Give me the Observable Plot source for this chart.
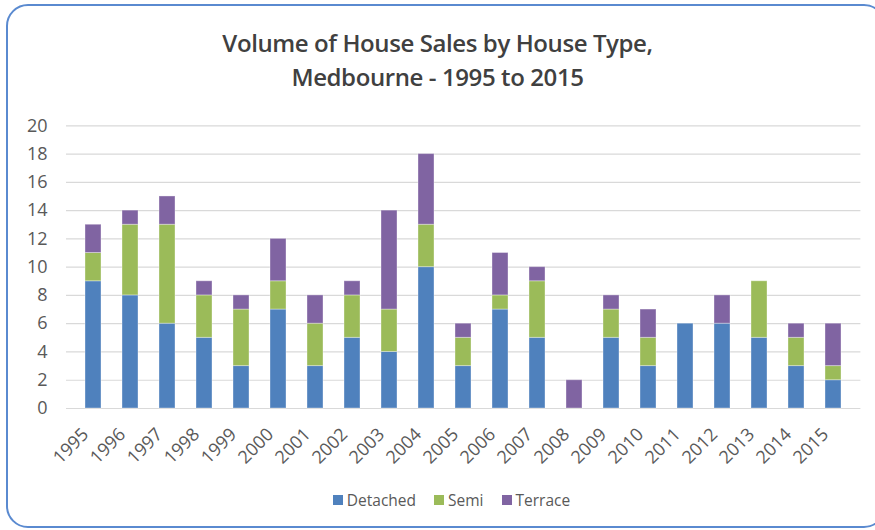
<!DOCTYPE html>
<html>
<head>
<meta charset="utf-8">
<script src="https://cdn.jsdelivr.net/npm/d3@7"></script>
<script src="https://cdn.jsdelivr.net/npm/@observablehq/plot@0.6"></script>
<style>
  html, body { margin: 0; padding: 0; background: #fff; }
  #wrap { position: relative; width: 875px; height: 530px; overflow: hidden; font-family: "Open Sans", sans-serif; }
  #frame { position: absolute; left: 6px; top: 4px; width: 880px; height: 524px; border: 2px solid #5a8ad0; border-radius: 22px; box-sizing: border-box; }
  #title { position: absolute; left: 0; top: 26px; width: 875px; text-align: center; font-size: 24px; font-weight: 600; color: #404040; line-height: 34px; letter-spacing: -0.4px; }
  #chart { position: absolute; left: 0; top: 110px; }
  #legend { position: absolute; top: 489px; left: 0; width: 875px; display: flex; justify-content: center; gap: 18px; font-size: 15.5px; color: #595959; padding-left: 28px; box-sizing: border-box; }
  .item { display: flex; align-items: center; gap: 4px; }
  .sw { width: 10px; height: 10px; display: inline-block; }
</style>
</head>
<body>
<div id="wrap">
  <div id="frame"></div>
  <div id="title">Volume of House Sales by House Type,<br>Medbourne - 1995 to 2015</div>
  <div id="chart"></div>
  <div id="legend"></div>
</div>
<script>
const years = ["1995","1996","1997","1998","1999","2000","2001","2002","2003","2004","2005","2006","2007","2008","2009","2010","2011","2012","2013","2014","2015"];
const detached = [9, 8, 6, 5, 3, 7, 3, 5, 4, 10, 3, 7, 5, 0, 5, 3, 6, 6, 5, 3, 2];
const semi     = [2, 5, 7, 3, 4, 2, 3, 3, 3, 3, 2, 1, 4, 0, 2, 2, 0, 0, 4, 2, 1];
const terrace  = [2, 1, 2, 1, 1, 3, 2, 1, 7, 5, 1, 3, 1, 2, 1, 2, 0, 2, 0, 1, 3];
const seriesNames = ["Detached", "Semi", "Terrace"];
const seriesColors = ["#4f81bd", "#9bbb59", "#8064a2"];
const yTicks = [0, 2, 4, 6, 8, 10, 12, 14, 16, 18, 20];

const seriesValues = [detached, semi, terrace];
const rows = [];
years.forEach((y, i) => {
  seriesNames.forEach((s, k) => {
    rows.push({year: y, type: s, value: seriesValues[k][i]});
  });
});

const chart = Plot.plot({
  width: 875,
  height: 360,
  marginTop: 15.3,
  marginBottom: 62,
  marginLeft: 66,
  marginRight: 14.6,
  style: {fontFamily: "Open Sans, sans-serif", fontSize: "18px", color: "#595959", background: "transparent"},
  x: {domain: years, paddingInner: 0.58, paddingOuter: 0.29, label: null},
  y: {domain: [0, 20], label: null},
  color: {domain: seriesNames, range: seriesColors},
  marks: [
    Plot.ruleY(yTicks, {stroke: "#d9d9d9", strokeWidth: 1.2}),
    Plot.barY(rows, Plot.stackY({
      x: "year", y: "value", fill: "type", order: seriesNames,
      stroke: "white", strokeOpacity: 0.35, strokeWidth: 1
    })),
    Plot.axisY({ticks: yTicks, tickSize: 0, tickPadding: 19, fontSize: 18, fill: "#595959", label: null}),
    Plot.axisX({tickSize: 0, tickPadding: 23, dx: -8, tickRotate: -45, fontSize: 18, fill: "#595959", label: null})
  ]
});
document.getElementById("chart").appendChild(chart);

const legend = document.getElementById("legend");
seriesNames.forEach((s, k) => {
  const item = document.createElement("div");
  item.className = "item";
  const sw = document.createElement("span");
  sw.className = "sw";
  sw.style.background = seriesColors[k];
  const t = document.createElement("span");
  t.textContent = s;
  item.appendChild(sw);
  item.appendChild(t);
  legend.appendChild(item);
});
</script>
</body>
</html>
